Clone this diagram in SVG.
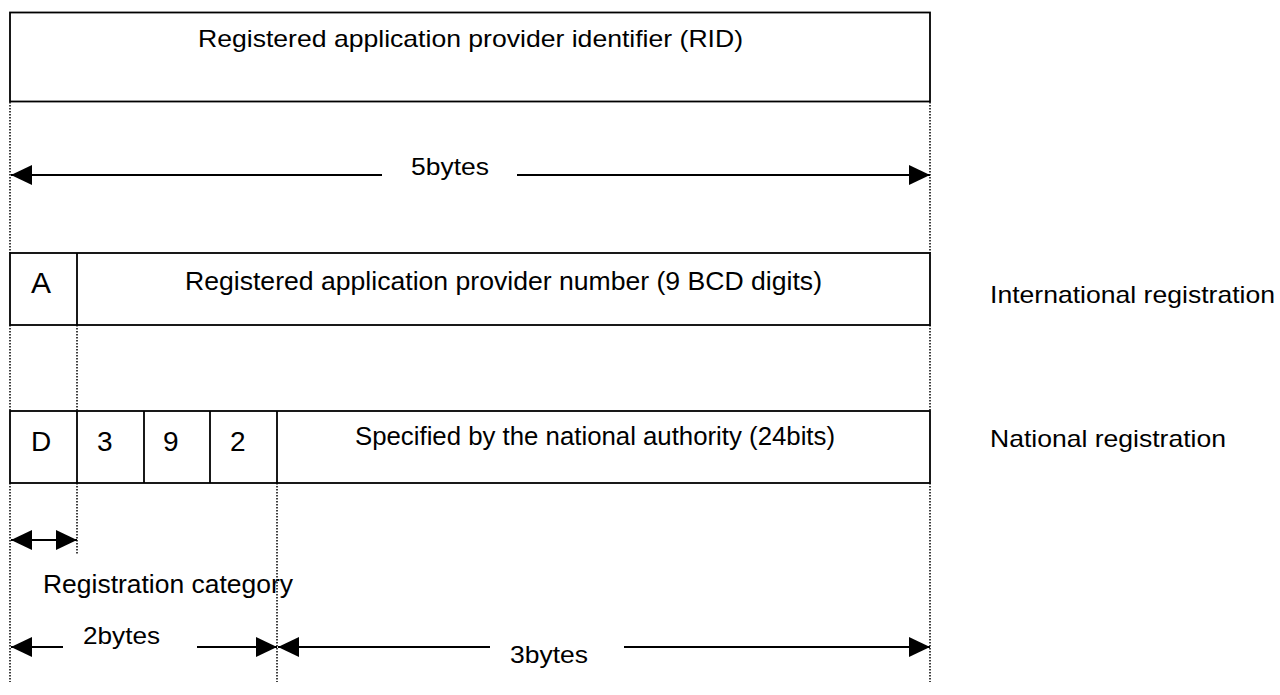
<svg xmlns="http://www.w3.org/2000/svg" width="1280" height="695" viewBox="0 0 1280 695">
<style>
.box{fill:#fff;stroke:#000;stroke-width:1.8}
.div{stroke:#000;stroke-width:1.8}
.dot{stroke:#000;stroke-width:1.5;stroke-dasharray:1.5 1.5;fill:none}
.arr{stroke:#000;stroke-width:2;fill:none}
text{font-family:"Liberation Sans",Arial,sans-serif;fill:#000}
.t24{font-size:24px}
.t25{font-size:25px}
.t26{font-size:26px}
.big{font-size:28px}
</style>
<defs>
<marker id="ah" markerUnits="userSpaceOnUse" markerWidth="21" markerHeight="20" refX="21" refY="10" orient="auto-start-reverse" viewBox="0 0 21 20">
<path d="M0,0 L21,10 L0,20 z" fill="#000"/>
</marker>
</defs>
<g id="guides">
<line class="dot" x1="10" y1="102" x2="10" y2="253"/>
<line class="dot" x1="10" y1="325" x2="10" y2="411"/>
<line class="dot" x1="10" y1="483" x2="10" y2="682"/>
<line class="dot" x1="930" y1="102" x2="930" y2="253"/>
<line class="dot" x1="930" y1="325" x2="930" y2="411"/>
<line class="dot" x1="930" y1="483" x2="930" y2="682"/>
<line class="dot" x1="77" y1="325" x2="77" y2="411"/>
<line class="dot" x1="77" y1="483" x2="77" y2="555"/>
<line class="dot" x1="277" y1="483" x2="277" y2="682"/>
</g>
<g id="rid">
<rect class="box" x="10" y="12.5" width="920" height="89"/>
<text class="t24" x="198" y="47" textLength="545" lengthAdjust="spacingAndGlyphs">Registered application provider identifier (RID)</text>
</g>
<g id="international">
<rect class="box" x="10" y="253" width="920" height="72"/>
<line class="div" x1="77" y1="253" x2="77" y2="325"/>
<text x="31" y="293" style="font-size:30px">A</text>
<text class="t25" x="185" y="290" textLength="637" lengthAdjust="spacingAndGlyphs">Registered application provider number (9 BCD digits)</text>
<text class="t24" x="990" y="303" textLength="285" lengthAdjust="spacingAndGlyphs">International registration</text>
</g>
<g id="national">
<rect class="box" x="10" y="411" width="920" height="72"/>
<line class="div" x1="77" y1="411" x2="77" y2="483"/>
<line class="div" x1="144" y1="411" x2="144" y2="483"/>
<line class="div" x1="210" y1="411" x2="210" y2="483"/>
<line class="div" x1="277" y1="411" x2="277" y2="483"/>
<text class="big" x="31" y="451">D</text>
<text class="big" x="97" y="451">3</text>
<text class="big" x="163" y="451">9</text>
<text class="big" x="230" y="451">2</text>
<text class="t25" x="355" y="445" textLength="480" lengthAdjust="spacingAndGlyphs">Specified by the national authority (24bits)</text>
<text class="t24" x="990" y="447" textLength="236" lengthAdjust="spacingAndGlyphs">National registration</text>
</g>
<g id="connectors">
<line class="arr" x1="11" y1="175" x2="382" y2="175" marker-start="url(#ah)"/>
<line class="arr" x1="517" y1="175" x2="930" y2="175" marker-end="url(#ah)"/>
<line class="arr" x1="11" y1="540" x2="77" y2="540" marker-start="url(#ah)" marker-end="url(#ah)"/>
<line class="arr" x1="11" y1="647" x2="63" y2="647" marker-start="url(#ah)"/>
<line class="arr" x1="197" y1="647" x2="277" y2="647" marker-end="url(#ah)"/>
<line class="arr" x1="278" y1="647" x2="490" y2="647" marker-start="url(#ah)"/>
<line class="arr" x1="624" y1="647" x2="930" y2="647" marker-end="url(#ah)"/>
</g>
<g id="labels">
<text class="t24" x="411" y="175" textLength="78" lengthAdjust="spacingAndGlyphs">5bytes</text>
<text class="t26" x="43" y="593" textLength="250" lengthAdjust="spacingAndGlyphs">Registration category</text>
<text class="t24" x="83" y="644" textLength="77" lengthAdjust="spacingAndGlyphs">2bytes</text>
<text class="t24" x="510" y="663" textLength="78" lengthAdjust="spacingAndGlyphs">3bytes</text>
</g>
</svg>
